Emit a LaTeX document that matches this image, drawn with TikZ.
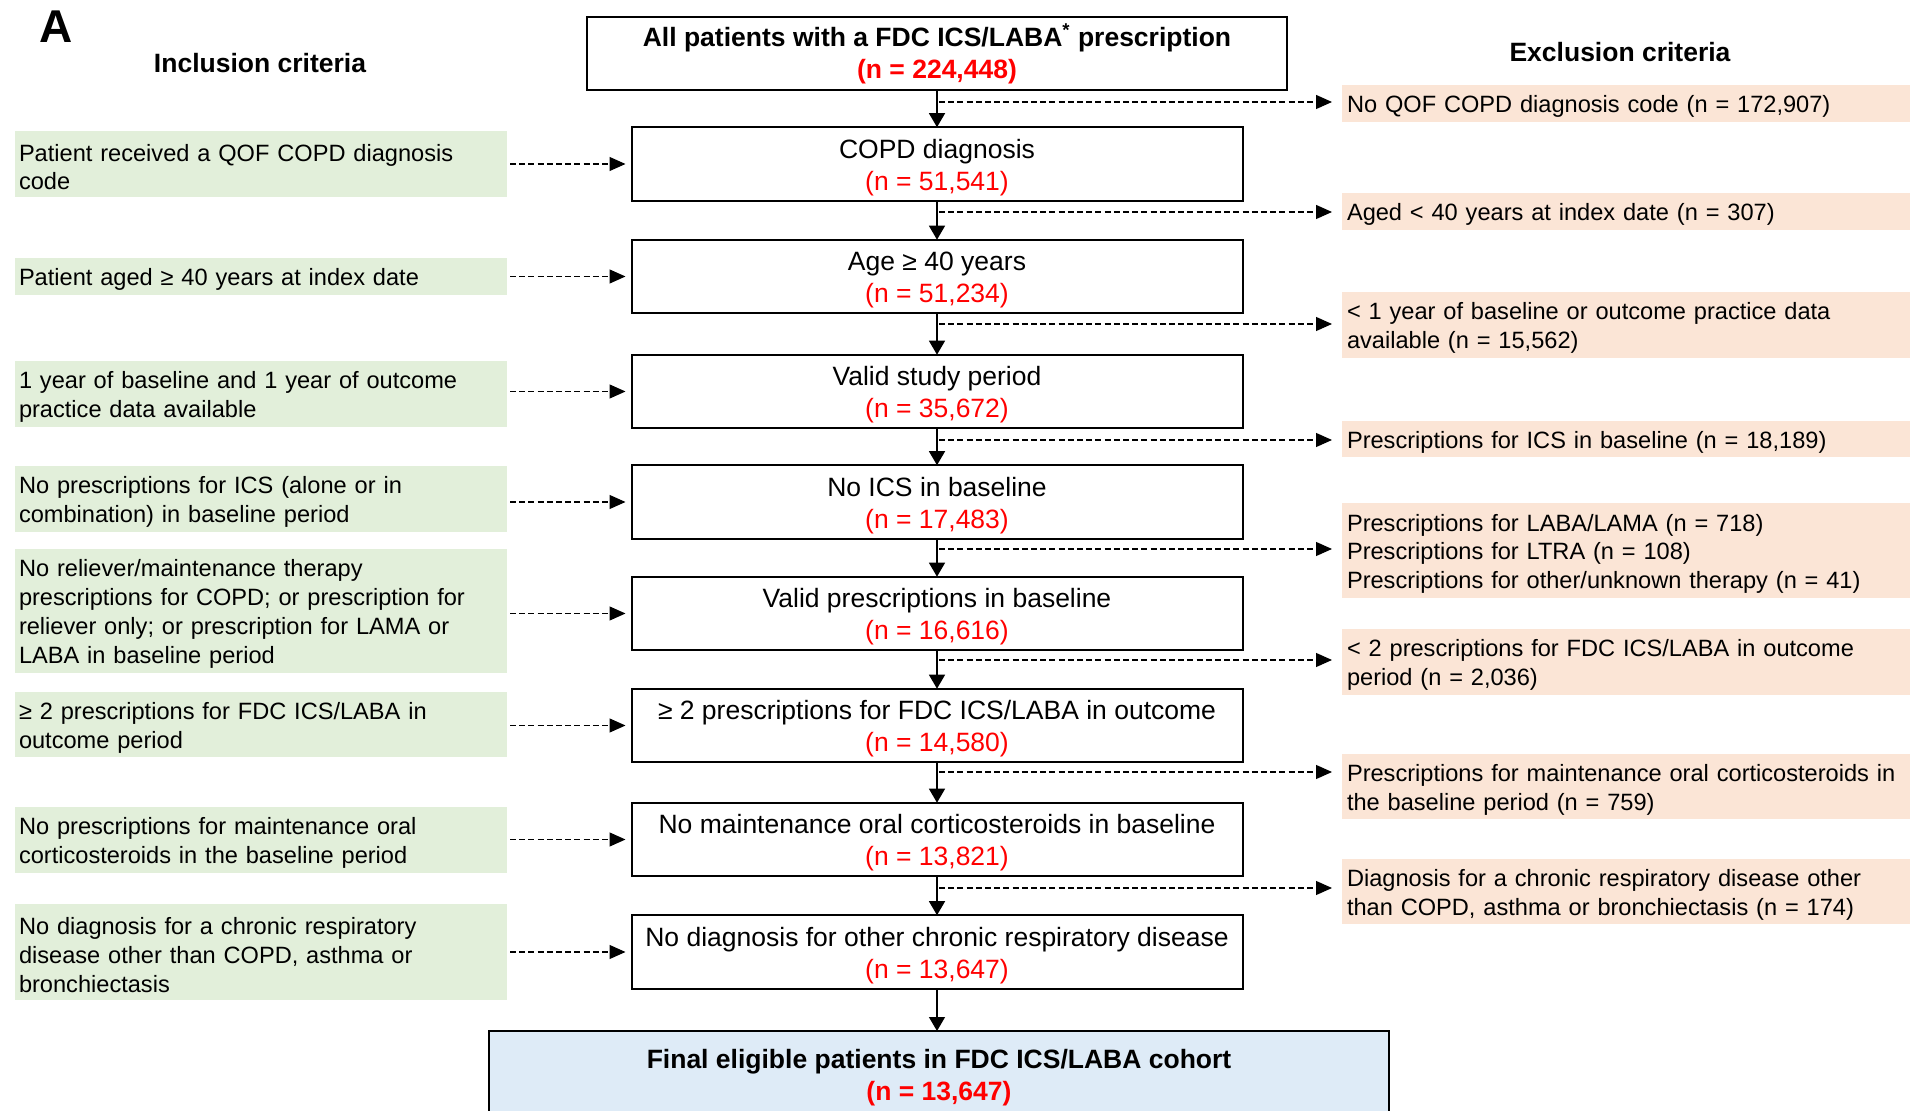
\documentclass[tikz,border=0pt]{standalone}
\usepackage{fontspec}
\setmainfont{Liberation Sans}
\usetikzlibrary{arrows.meta}
\definecolor{inclc}{HTML}{E2EFDA}
\definecolor{exclc}{HTML}{FBE5D6}
\definecolor{finc}{HTML}{DEEBF7}
\definecolor{nred}{HTML}{FF0000}
\newcommand{\smallfnt}{\fontsize{11.8}{14.4}\selectfont}
\newcommand{\bigfnt}{\fontsize{13.25}{16}\selectfont}
\newcommand{\nr}[1]{\textcolor{nred}{#1}}
\newcommand{\mtext}[3][13pt]{\rule{0pt}{#1}#2\\\nr{#3}}
\begin{document}
\begin{tikzpicture}[x=0.5pt,y=-0.5pt,
  every node/.style={inner sep=0pt, outer sep=0pt},
  inclbox/.style={fill=inclc, font=\smallfnt, align=left, text width=242pt, inner xsep=2pt, minimum width=246pt,
    execute at begin node={\rule{0pt}{11.6pt}}},
  exclbox/.style={fill=exclc, font=\smallfnt, align=left, text width=279pt, inner xsep=2.5pt, minimum width=284pt,
    execute at begin node={\rule{0pt}{11.8pt}}},
  mainbox/.style={draw, line width=1pt, fill=white, font=\bigfnt, align=center, minimum width=305.5pt, minimum height=36.8pt},
  heading/.style={font=\bigfnt\bfseries},
  flowarrow/.style={line width=0.7pt, -{Triangle[length=7pt,width=8pt]}},
  dasharrow/.style={line width=0.6pt, dash pattern=on 3pt off 1.6pt, -{Triangle[length=8pt,width=7pt]}}
]
\useasboundingbox (0,0) rectangle (1912,1111);
\fill[white] (0,0) rectangle (1912,1111);

% headings
\node[font=\fontsize{23}{26}\selectfont\bfseries] (lblA) at (56,27) {A};
\node[heading] (inh) at (260,63) {Inclusion criteria};
\node[heading] (exh) at (1620,52) {Exclusion criteria};

% main flow
\node[mainbox, font=\bigfnt\bfseries, minimum width=350pt, minimum height=36.5pt] (m0) at (937,53.5)
  {\mtext[12pt]{All patients with a FDC ICS/LABA\textsuperscript{*} prescription}{(n = 224,448)}};
\node[mainbox] (m1) at (937,164) {\mtext{COPD diagnosis}{(n = 51,541)}};
\node[mainbox] (m2) at (937,276.5) {\mtext{Age ≥ 40 years}{(n = 51,234)}};
\node[mainbox] (m3) at (937,391.5) {\mtext{Valid study period}{(n = 35,672)}};
\node[mainbox] (m4) at (937,502) {\mtext{No ICS in baseline}{(n = 17,483)}};
\node[mainbox] (m5) at (937,613.5) {\mtext{Valid prescriptions in baseline}{(n = 16,616)}};
\node[mainbox] (m6) at (937,725.5) {\mtext{≥ 2 prescriptions for FDC ICS/LABA in outcome}{(n = 14,580)}};
\node[mainbox] (m7) at (937,839.5) {\mtext{No maintenance oral corticosteroids in baseline}{(n = 13,821)}};
\node[mainbox] (m8) at (937,952) {\mtext{No diagnosis for other chronic respiratory disease}{(n = 13,647)}};
\node[mainbox, fill=finc, font=\bigfnt\bfseries, minimum width=450pt, minimum height=44pt] (fin) at (939,1075)
  {\mtext[12pt]{Final eligible patients in FDC ICS/LABA cohort}{(n = 13,647)}};

% inclusion boxes
\node[inclbox, minimum height=33pt] (g1) at (261,164) {Patient received a QOF COPD diagnosis\\code};
\node[inclbox, minimum height=18.5pt] (g2) at (261,276.5) {Patient aged ≥ 40 years at index date};
\node[inclbox, minimum height=33pt] (g3) at (261,394) {1 year of baseline and 1 year of outcome\\practice data available};
\node[inclbox, minimum height=33pt] (g4) at (261,499) {No prescriptions for ICS (alone or in\\combination) in baseline period};
\node[inclbox, minimum height=62pt] (g5) at (261,611) {No reliever/maintenance therapy\\prescriptions for COPD; or prescription for\\reliever only; or prescription for LAMA or\\LABA in baseline period};
\node[inclbox, minimum height=32.5pt] (g6) at (261,724.5) {≥ 2 prescriptions for FDC ICS/LABA in\\outcome period};
\node[inclbox, minimum height=33pt] (g7) at (261,840) {No prescriptions for maintenance oral\\corticosteroids in the baseline period};
\node[inclbox, minimum height=48pt] (g8) at (261,952) {No diagnosis for a chronic respiratory\\disease other than COPD, asthma or\\bronchiectasis};

% exclusion boxes
\node[exclbox, minimum height=18.5pt] (p1) at (1626,103.5) {No QOF COPD diagnosis code (n = 172,907)};
\node[exclbox, minimum height=18.5pt] (p2) at (1626,211.5) {Aged < 40 years at index date (n = 307)};
\node[exclbox, minimum height=33pt] (p3) at (1626,325) {< 1 year of baseline or outcome practice data\\available (n = 15,562)};
\node[exclbox, minimum height=18pt] (p4) at (1626,439) {Prescriptions for ICS in baseline (n = 18,189)};
\node[exclbox, minimum height=47.5pt] (p5) at (1626,550.5) {Prescriptions for LABA/LAMA (n = 718)\\Prescriptions for LTRA (n = 108)\\Prescriptions for other/unknown therapy (n = 41)};
\node[exclbox, minimum height=33pt] (p6) at (1626,662) {< 2 prescriptions for FDC ICS/LABA in outcome\\period (n = 2,036)};
\node[exclbox, minimum height=32.5pt] (p7) at (1626,786.5) {Prescriptions for maintenance oral corticosteroids in\\the baseline period (n = 759)};
\node[exclbox, minimum height=32.5pt] (p8) at (1626,891.5) {Diagnosis for a chronic respiratory disease other\\than COPD, asthma or bronchiectasis (n = 174)};

% vertical flow arrows
\draw[flowarrow] (m0.south) -- (m1.north);
\draw[flowarrow] (m1.south) -- (m2.north);
\draw[flowarrow] (m2.south) -- (m3.north);
\draw[flowarrow] (m3.south) -- (m4.north);
\draw[flowarrow] (m4.south) -- (m5.north);
\draw[flowarrow] (m5.south) -- (m6.north);
\draw[flowarrow] (m6.south) -- (m7.north);
\draw[flowarrow] (m7.south) -- (m8.north);
\draw[flowarrow] (m8.south) -- (m8.south |- fin.north);

% inclusion arrows
\foreach \i in {1,...,8}{
  \draw[dasharrow, shorten <=1.5pt, shorten >=3pt] (g\i.east |- m\i.west) -- (m\i.west);
}

% exclusion arrows
\coordinate (e1) at (939,102);
\coordinate (e2) at (939,212);
\coordinate (e3) at (939,324);
\coordinate (e4) at (939,440);
\coordinate (e5) at (939,549);
\coordinate (e6) at (939,660);
\coordinate (e7) at (939,772);
\coordinate (e8) at (939,888);
\foreach \i in {1,...,8}{
  \draw[dasharrow, shorten >=5pt] (e\i) -- (e\i -| p\i.west);
}
\end{tikzpicture}
\end{document}
